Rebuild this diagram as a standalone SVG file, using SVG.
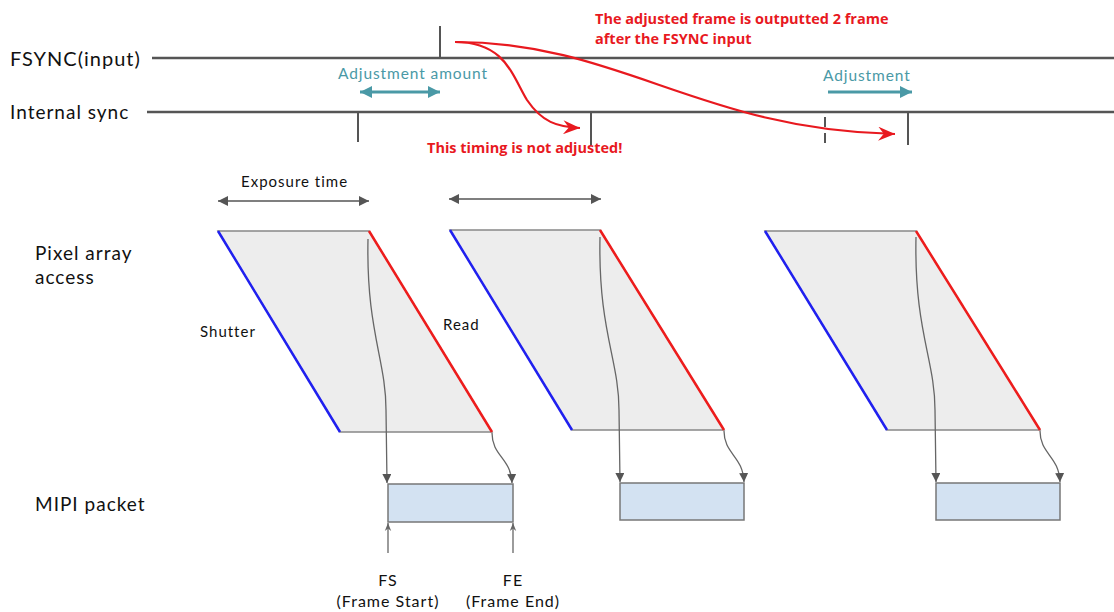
<svg xmlns="http://www.w3.org/2000/svg" width="1114" height="612" viewBox="0 0 1114 612">
  <defs>
    <style>
      .lbl { font-family: Lato, "Liberation Sans", sans-serif; fill: #111; letter-spacing: 1px; }
      .teal { font-family: Lato, "Liberation Sans", sans-serif; fill: #4a99a6; font-size: 15.5px; letter-spacing: 0.9px; }
      .note { font-family: "Open Sans", "Noto Sans", sans-serif; font-weight: bold; fill: #e8191f; font-size: 14.5px; }
      .axis { stroke: #555; stroke-width: 2.5; fill: none; }
      .tick { stroke: #555; stroke-width: 2; fill: none; }
      .frame { fill: #ededed; stroke: #888; stroke-width: 1.5; }
      .shut { stroke: #2020f0; stroke-width: 2.5; }
      .read { stroke: #ee1c1c; stroke-width: 2.5; }
      .flow { stroke: #666; stroke-width: 1.3; fill: none; marker-end: url(#gray-head); }
      .pkt { fill: #d3e2f2; stroke: #777; stroke-width: 1.5; }
      .red { stroke: #e8191f; stroke-width: 2.2; fill: none; marker-end: url(#red-head); }
    </style>
    <marker id="gray-head" viewBox="0 0 10 10" refX="10" refY="5" markerWidth="9" markerHeight="9" markerUnits="userSpaceOnUse" orient="auto">
      <path d="M0,0 L10,5 L0,10 Z" fill="#555"/>
    </marker>
    <marker id="small-head" viewBox="0 0 10 10" refX="10" refY="5" markerWidth="8" markerHeight="8" markerUnits="userSpaceOnUse" orient="auto">
      <path d="M0,1 L10,5 L0,9 L3,5 Z" fill="#666"/>
    </marker>
    <marker id="dim-head" viewBox="0 0 10 10" refX="10" refY="5" markerWidth="11" markerHeight="10" markerUnits="userSpaceOnUse" orient="auto-start-reverse">
      <path d="M0,0 L10,5 L0,10 Z" fill="#555"/>
    </marker>
    <marker id="teal-head" viewBox="0 0 10 10" refX="10" refY="5" markerWidth="14" markerHeight="12" markerUnits="userSpaceOnUse" orient="auto-start-reverse">
      <path d="M0,0 L10,5 L0,10 Z" fill="#4a99a6"/>
    </marker>
    <marker id="red-head" viewBox="0 0 12 10" refX="12" refY="5" markerWidth="22" markerHeight="14" markerUnits="userSpaceOnUse" orient="auto">
      <path d="M0,0 L12,5 L0,10 L4,5 Z" fill="#e8191f"/>
    </marker>
  </defs>

  <rect width="1114" height="612" fill="#ffffff"/>

  <!-- row labels -->
  <g id="row-labels">
    <text class="lbl" x="10" y="66" font-size="20">FSYNC(input)</text>
    <text class="lbl" x="10" y="119" font-size="19">Internal sync</text>
    <text class="lbl" x="35" y="260" font-size="19">Pixel array</text>
    <text class="lbl" x="35" y="284" font-size="19">access</text>
    <text class="lbl" x="35" y="511" font-size="19">MIPI packet</text>
  </g>

  <!-- sync timelines -->
  <g id="fsync-line">
    <line class="axis" x1="152" y1="58" x2="1114" y2="58"/>
    <line class="tick" x1="440" y1="26" x2="440" y2="58"/>
  </g>
  <g id="internal-sync-line">
    <line class="axis" x1="147" y1="112" x2="1114" y2="112"/>
    <line class="tick" x1="358" y1="112" x2="358" y2="142"/>
    <line class="tick" x1="591" y1="112" x2="591" y2="145"/>
    <line class="tick" x1="825" y1="117" x2="825" y2="145" stroke-dasharray="10,6"/>
    <line class="tick" x1="908" y1="112" x2="908" y2="145"/>
  </g>

  <!-- adjustment indicators -->
  <g id="adjustment-amount">
    <text class="teal" x="338" y="79">Adjustment amount</text>
    <line x1="360" y1="92" x2="440" y2="92" stroke="#4a99a6" stroke-width="3" marker-start="url(#teal-head)" marker-end="url(#teal-head)"/>
  </g>
  <g id="adjustment">
    <text class="teal" x="823" y="81">Adjustment</text>
    <line x1="828" y1="92" x2="912" y2="92" stroke="#4a99a6" stroke-width="3" marker-end="url(#teal-head)"/>
  </g>

  <!-- annotations -->
  <g id="note-output">
    <text class="note" x="595" y="24">The adjusted frame is outputted 2 frame</text>
    <text class="note" x="595" y="44">after the FSYNC input</text>
  </g>
  <g id="note-not-adjusted">
    <text class="note" x="427" y="153">This timing is not adjusted!</text>
  </g>

  <!-- exposure spans -->
  <g id="exposure-time">
    <text class="lbl" x="241" y="187" font-size="15">Exposure time</text>
    <line x1="218" y1="201" x2="369" y2="201" stroke="#555" stroke-width="1.5" marker-start="url(#dim-head)" marker-end="url(#dim-head)"/>
    <line x1="449" y1="199" x2="601" y2="199" stroke="#555" stroke-width="1.5" marker-start="url(#dim-head)" marker-end="url(#dim-head)"/>
  </g>

  <!-- pixel array access frames -->
  <g id="frame-1">
    <polygon class="frame" points="218,231 369,231 492,432 340,432"/>
    <line class="shut" x1="218" y1="231" x2="340" y2="432"/>
    <line class="read" x1="369" y1="231" x2="492" y2="432"/>
    <text class="lbl" x="200" y="337" font-size="15">Shutter</text>
    <text class="lbl" x="443" y="330" font-size="15">Read</text>
  </g>
  <g id="frame-2">
    <polygon class="frame" points="450,230 600,230 724,430 572,430"/>
    <line class="shut" x1="450" y1="230" x2="572" y2="430"/>
    <line class="read" x1="600" y1="230" x2="724" y2="430"/>
  </g>
  <g id="frame-3">
    <polygon class="frame" points="765,231 916,231 1040,430 887,430"/>
    <line class="shut" x1="765" y1="231" x2="887" y2="430"/>
    <line class="read" x1="916" y1="231" x2="1040" y2="430"/>
  </g>

  <!-- MIPI packets -->
  <g id="packet-1">
    <rect class="pkt" x="388" y="484" width="125" height="38"/>
    <text class="lbl" x="388" y="586" font-size="16" text-anchor="middle">FS</text>
    <text class="lbl" x="388" y="607" font-size="16" text-anchor="middle">(Frame Start)</text>
    <text class="lbl" x="513" y="586" font-size="16" text-anchor="middle">FE</text>
    <text class="lbl" x="513" y="607" font-size="16" text-anchor="middle">(Frame End)</text>
  </g>
  <g id="packet-2">
    <rect class="pkt" x="620" y="483" width="124" height="37"/>
  </g>
  <g id="packet-3">
    <rect class="pkt" x="936" y="483" width="124" height="37"/>
  </g>

  <!-- connectors -->
  <g id="connectors">
    <path class="flow" d="M368,239 C366,330 386,360 386,410 L387,483"/>
    <path class="flow" d="M492,433 C492,456 511,458 512,483"/>
    <path class="flow" d="M600,237 C598,330 619,360 619,410 L620,482"/>
    <path class="flow" d="M724,431 C724,454 743,456 744,482"/>
    <path class="flow" d="M916,237 C914,330 935,360 935,410 L936,482"/>
    <path class="flow" d="M1040,431 C1040,454 1059,456 1060,482"/>
    <line x1="388" y1="553" x2="388" y2="523" stroke="#666" stroke-width="1.3" marker-end="url(#small-head)"/>
    <line x1="513" y1="553" x2="513" y2="523" stroke="#666" stroke-width="1.3" marker-end="url(#small-head)"/>
    <path class="red" d="M455,42 C620,42 700,130 895,134"/>
    <path class="red" d="M455,42 C505,42 512,75 527,100 C542,122 557,127 580,128"/>
  </g>
</svg>
